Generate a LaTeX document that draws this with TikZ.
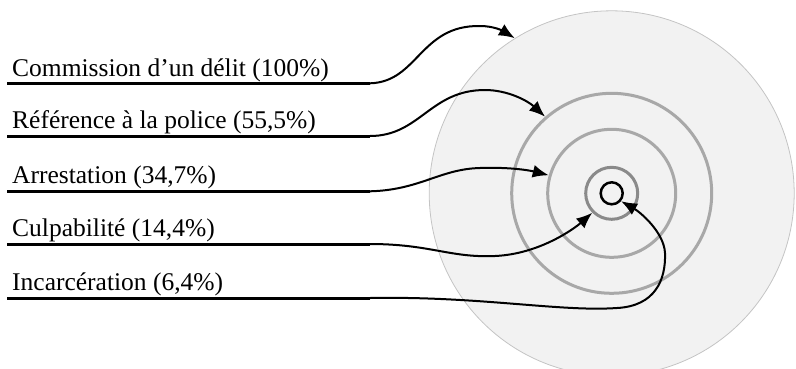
\documentclass[tikz,border=0pt]{standalone}
\usepackage{fontspec}
\setmainfont{Liberation Serif}
\usetikzlibrary{arrows.meta}
\begin{document}
\begin{tikzpicture}[x=1pt,y=-1pt,
  lbl/.style={anchor=base west,inner sep=0pt,font=\fontsize{25.5}{30}\selectfont},
  uline/.style={line width=3pt,black},
  conn/.style={line width=2pt,black,-{Latex[length=16pt,width=13pt]}},
  ring/.style={circle,draw=ringgray,line width=3pt,inner sep=0pt},
]
\definecolor{ringgray}{HTML}{A8A8A8}
\definecolor{ringdark}{HTML}{8A8A8A}
\definecolor{bgdisk}{HTML}{F2F2F2}
\definecolor{diskedge}{HTML}{C4C4C4}
\useasboundingbox (0,0) rectangle (796,368);
\begin{scope}
\clip (0,0) rectangle (796,368);
\coordinate (c) at (611.7,193.3);
\node[circle,fill=bgdisk,draw=diskedge,line width=0.8pt,minimum size=365pt,inner sep=0pt] (disk) at (c) {};
\node[ring,minimum size=200pt] (ring1) at (c) {};
\node[ring,minimum size=128pt] (ring2) at (c) {};
\node[ring,draw=ringdark,minimum size=52pt] (ring3) at (c) {};
\node[circle,draw=black,line width=2.5pt,minimum size=22pt,inner sep=0pt] (core) at (c) {};

\node[lbl] (t1) at (12,76) {Commission d’un délit (100\%)};
\node[lbl] (t2) at (12,128.5) {Référence à la police (55,5\%)};
\node[lbl] (t3) at (12,183.5) {Arrestation (34,7\%)};
\node[lbl] (t4) at (12,236) {Culpabilité (14,4\%)};
\node[lbl] (t5) at (12,290) {Incarcération (6,4\%)};

\coordinate (s1) at (7,83.3);  \coordinate (e1) at (370,83.3);
\coordinate (s2) at (7,136);   \coordinate (e2) at (370,136);
\coordinate (s3) at (7,191.3); \coordinate (e3) at (370,191.3);
\coordinate (s4) at (7,244);   \coordinate (e4) at (370,244);
\coordinate (s5) at (7,298);   \coordinate (e5) at (370,298);

\foreach \i in {1,...,5} { \draw[uline] (s\i) -- (e\i); }

\draw[conn] (e1) .. controls (418,82) and (420,25) .. (480,26)
  .. controls (494,26) and (503,31) .. (disk.122.7);
\draw[conn] (e2) .. controls (420,136) and (430,90) .. (485,90)
  .. controls (508,90) and (528,101) .. (ring1.131.5);
\draw[conn] (e3) .. controls (420,190) and (440,169) .. (480,168)
  .. controls (508,167) and (528,170) .. (ring2.164.3);
\draw[conn] (e4) .. controls (430,244) and (450,258) .. (495,256)
  .. controls (540,254) and (575,228) .. (ring3.225);
\draw[conn] (e5) .. controls (480,296) and (560,312) .. (617,308)
  .. controls (655,306) and (666,280) .. (665,253)
  .. controls (664,232) and (640,212) .. (core.-40);
\end{scope}
\end{tikzpicture}
\end{document}
